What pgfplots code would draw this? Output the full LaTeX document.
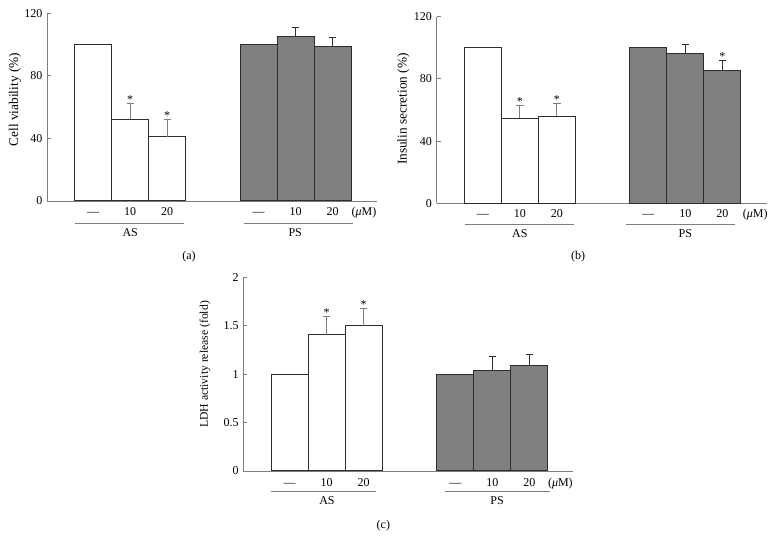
\documentclass[border=0pt]{standalone}
\usepackage{fontspec}
\setmainfont{Liberation Serif}
\usepackage{pgfplots}
\pgfplotsset{compat=1.18}
\definecolor{axgray}{RGB}{125,125,125}
\definecolor{psfill}{RGB}{128,128,128}
\definecolor{edge}{RGB}{45,45,45}
\definecolor{errgray}{RGB}{125,125,125}
\newcommand{\fs}{\fontsize{9}{10}\selectfont}
% text label below axis: #1 x, #2 yshift, #3 text
\newcommand{\btl}[3]{\node[anchor=base, inner sep=0pt, font=\fs, yshift=#2] at (axis cs:#1,0) {#3};}
\newcommand{\sig}[2]{\node[anchor=base, inner sep=0pt, font=\fs] at (axis cs:#1,#2) {*};}
\pgfplotsset{
 panel/.style={
  scale only axis, width=247.5pt,
  xmin=-1.25, xmax=7.67, ymin=0,
  axis x line*=bottom, axis y line*=left,
  axis line style={draw=axgray, line width=0.6pt, -},
  xtick=\empty,
  tick align=inside, major tick length=3pt,
  tick style={draw=axgray, line width=0.6pt},
  /pgf/number format/assume math mode=true,
  yticklabel style={font=\fs},
  clip=false,
  every axis y label/.style={rotate=90, anchor=center, font=\fontsize{10}{11}\selectfont},
 },
 asbar/.style={ybar, bar width=1, fill=white, draw=edge, line width=0.75pt},
 psbar/.style={ybar, bar width=1, fill=psfill, draw=edge, line width=0.75pt},
 err/.style={draw=none, mark=none, forget plot,
   error bars/.cd, y dir=plus, y explicit,
   error bar style={draw=#1, line width=0.75pt},
   error mark options={rotate=90, draw=#1, mark size=2.75pt, line width=0.75pt}},
}
\begin{document}
\begin{tikzpicture}
\useasboundingbox (0,0) rectangle (582pt,-411pt);
% ---------------- (a)
\begin{axis}[panel, at={(35.25pt,-150.75pt)}, anchor=south west,
  height=140.8pt, ymax=120, ytick={0,40,80,120},
  ylabel={Cell viability (\%)},
  ylabel style={at={(axis description cs:-0.097,0.54)}}]
\addplot[asbar] coordinates {(0,100) (1,52.4) (2,41.1)};
\addplot[err=errgray] coordinates {(1,52.4) +- (0,10.1) (2,41.1) +- (0,10.7)};
\addplot[psbar] coordinates {(4.47,100) (5.47,105.3) (6.47,98.7)};
\addplot[err=edge] coordinates {(5.47,105.3) +- (0,5.7) (6.47,98.7) +- (0,6.0)};
\sig{1}{62.5}
\sig{2}{51.8}
\btl{0}{-11.25pt}{—}\btl{1}{-11.25pt}{10}\btl{2}{-11.25pt}{20}
\btl{4.47}{-11.25pt}{—}\btl{5.47}{-11.25pt}{10}\btl{6.47}{-11.25pt}{20}
\btl{7.32}{-11.25pt}{(\textit{μ}M)}
\draw[axgray, line width=0.6pt] ([yshift=-16.5pt]axis cs:-0.5,0) -- ([yshift=-16.5pt]axis cs:2.45,0);
\draw[axgray, line width=0.6pt] ([yshift=-16.5pt]axis cs:4.08,0) -- ([yshift=-16.5pt]axis cs:7.02,0);
\btl{1}{-27pt}{AS}
\btl{5.46}{-27pt}{PS}
\end{axis}
% ---------------- (b)
\begin{axis}[panel, at={(327.5pt,-152.5pt)}, anchor=south west,
  height=140.0pt, ymax=120, ytick={0,40,80,120},
  ylabel={Insulin secretion (\%)},
  ylabel style={at={(axis description cs:-0.101,0.505)}}]
\addplot[asbar] coordinates {(0,100) (1,54.6) (2,55.9)};
\addplot[err=errgray] coordinates {(1,54.6) +- (0,8.4) (2,55.9) +- (0,8.4)};
\addplot[psbar] coordinates {(4.47,100) (5.47,96.0) (6.47,85.2)};
\addplot[err=edge] coordinates {(5.47,96.0) +- (0,6.2) (6.47,85.2) +- (0,6.4)};
\sig{1}{63.0}
\sig{2}{64.3}
\sig{6.47}{91.6}
\btl{0}{-11pt}{—}\btl{1}{-11pt}{10}\btl{2}{-11pt}{20}
\btl{4.47}{-11pt}{—}\btl{5.47}{-11pt}{10}\btl{6.47}{-11pt}{20}
\btl{7.36}{-11pt}{(\textit{μ}M)}
\draw[axgray, line width=0.6pt] ([yshift=-15.75pt]axis cs:-0.48,0) -- ([yshift=-15.75pt]axis cs:2.47,0);
\draw[axgray, line width=0.6pt] ([yshift=-15.75pt]axis cs:3.88,0) -- ([yshift=-15.75pt]axis cs:6.82,0);
\btl{1}{-25.5pt}{AS}
\btl{5.47}{-25.5pt}{PS}
\end{axis}
% ---------------- (c)
\begin{axis}[panel, at={(182.5pt,-353.25pt)}, anchor=south west,
  height=145.3pt, ymax=2, ytick={0,0.5,1,1.5,2},
  ylabel={LDH activity release (fold)},
  ylabel style={font=\fontsize{8.75}{10}\selectfont, at={(axis description cs:-0.116,0.55)}}]
\addplot[asbar] coordinates {(0,1) (1,1.407) (2,1.497)};
\addplot[err=errgray] coordinates {(1,1.407) +- (0,0.186) (2,1.497) +- (0,0.179)};
\addplot[psbar] coordinates {(4.48,1) (5.48,1.040) (6.48,1.087)};
\addplot[err=edge] coordinates {(5.48,1.040) +- (0,0.147) (6.48,1.087) +- (0,0.118)};
\sig{1}{1.593}
\sig{2}{1.676}
\btl{0}{-11.5pt}{—}\btl{1}{-11.5pt}{10}\btl{2}{-11.5pt}{20}
\btl{4.48}{-11.5pt}{—}\btl{5.48}{-11.5pt}{10}\btl{6.48}{-11.5pt}{20}
\btl{7.32}{-11.5pt}{(\textit{μ}M)}
\draw[axgray, line width=0.6pt] ([yshift=-15pt]axis cs:-0.49,0) -- ([yshift=-15pt]axis cs:2.33,0);
\draw[axgray, line width=0.6pt] ([yshift=-15pt]axis cs:4.19,0) -- ([yshift=-15pt]axis cs:7.05,0);
\btl{1.01}{-25.25pt}{AS}
\btl{5.61}{-25.25pt}{PS}
\end{axis}
% panel labels
\node[font=\fs] at (141.75pt,-192.75pt) {(a)};
\node[font=\fs] at (433.5pt,-192.5pt) {(b)};
\node[font=\fs] at (287.5pt,-394.3pt) {(c)};
\end{tikzpicture}
\end{document}
